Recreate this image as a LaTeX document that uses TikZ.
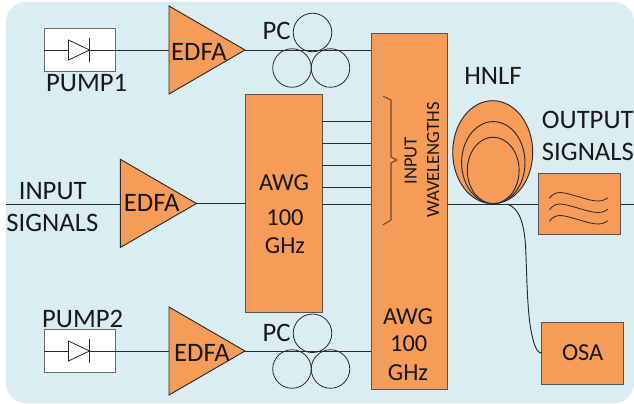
\documentclass[tikz,border=0pt]{standalone}
\usepackage{fontspec}
\setmainfont{Carlito}
\definecolor{bgblue}{HTML}{DAEDF3}
\definecolor{org}{HTML}{F69C58}
\definecolor{lin}{HTML}{2A2A2A}
\definecolor{brace}{HTML}{6A4A30}
\tikzset{
  px/.style={x=0.75pt,y=-0.75pt},
  wire/.style={draw=lin,line width=0.7pt},
  boxo/.style={draw=lin!80,line width=0.75pt,fill=org,inner sep=0pt,outer sep=0pt},
  boxw/.style={draw=lin!70,line width=0.75pt,fill=white,inner sep=0pt,outer sep=0pt},
  amp/.style={draw=lin,line width=0.7pt,fill=org,line join=miter},
  ring/.style={draw=lin,line width=0.6pt,circle,minimum size=28.9pt,inner sep=0pt,outer sep=0pt},
  fib/.style={draw=lin,line width=0.7pt,fill=org},
  lbl/.style={inner sep=0pt,font=\fontsize{20}{20}\selectfont,text=black!90},
  lbls/.style={inner sep=0pt,font=\fontsize{18.3}{18.3}\selectfont,text=black!90},
  lblr/.style={inner sep=0pt,font=\fontsize{14}{14}\selectfont,text=black!90,rotate=90},
}
\newcommand{\rectnode}[7]{\node[#1,minimum width=#6*0.75pt,minimum height=#7*0.75pt] (#2) at (#3,#4) {#5};}
\begin{document}
\begin{tikzpicture}[px]
\useasboundingbox (0,0) rectangle (634,403);
\fill[bgblue,rounded corners=15pt] (6,2) rectangle (634,403);
% anchors
\coordinate (in0) at (6,204);
\coordinate (e1w) at (169,50);\coordinate (e1e) at (245,50);
\coordinate (e2w) at (120,204);\coordinate (e2e) at (196.5,203.5);
\coordinate (e3w) at (169,351);\coordinate (e3e) at (245,351);
\coordinate (outend) at (634,204);
\coordinate (tap) at (507,204);
% boxes as named nodes
\rectnode{boxw}{pumpa}{79.5}{50}{}{71}{42}
\rectnode{boxw}{pumpb}{79.5}{351}{}{71}{43}
\rectnode{boxo}{awga}{283.75}{203}{}{76.5}{218}
\rectnode{boxo}{awgb}{409}{211.5}{}{76}{355}
\rectnode{boxo}{osa}{582.8}{353.5}{}{81.7}{61.6}
% wires
\draw[wire] (pumpa.west) -- (e1w);
\draw[wire] (pumpb.west) -- (e3w);
\draw[wire] (e1e) -- (371,50);
\draw[wire] (e3e) -- (371,351);
\draw[wire] (in0) -- (e2w);
\draw[wire] (e2e) -- (245.5,203.5);
\foreach \y in {121.7,143.3,165,187,204} \draw[wire] (322,\y) -- (371,\y);
\draw[wire] (447,204) -- (outend);
% filter above the through wire
\rectnode{boxo}{filt}{579.6}{204.3}{}{81.3}{61.3}
% PC rings
\node[ring] (pa) at (312.5,32.5) {};
\node[ring] (pb) at (292,68) {};
\node[ring] (pc) at (330.5,68) {};
\node[ring] (pd) at (312.5,333.3) {};
\node[ring] (pe) at (292,369) {};
\node[ring] (pf) at (330.5,369) {};
% amplifiers
\draw[amp] (169,6) -- (e1e) -- (169,94) -- cycle;
\draw[amp] (120.3,159.3) -- (e2e) -- (120.3,247.5) -- cycle;
\draw[amp] (169,307) -- (e3e) -- (169,395) -- cycle;
% diodes
\foreach \yy in {50,351}{
  \draw[wire] (44,\yy) -- (115,\yy);
  \draw[draw=lin,line width=0.6pt,fill=white] (68.5,\yy-10) -- (89.5,\yy) -- (68.5,\yy+10) -- cycle;
  \draw[draw=lin,line width=0.7pt] (89.5,\yy-12) -- (89.5,\yy+12);
}
% brace
\draw[brace,line width=0.8pt] (383.3,96.3) -- (391,100) -- (391,157) -- (396.7,160) -- (391,163) -- (391,220) -- (382.7,225);
% HNLF
\draw[fib] (492.7,152.2) ellipse [x radius=40,y radius=51.5];
\draw[fib] (493.3,162.6) ellipse [x radius=31.7,y radius=41];
\draw[fib] (493.2,170.4) ellipse [x radius=25.9,y radius=33.2];
% tap fibre
\draw[wire] (tap) .. controls (520,208) and (524,225) .. (525.5,245)
  .. controls (527,275) and (527,315) .. (532,335)
  .. controls (534,345) and (537,353) .. (osa.west);
% filter waves
\foreach \d in {0,11.5,23}{
  \draw[draw=lin,line width=0.6pt] (549.3,198.3+\d) .. controls (556,190+\d) and (562,192+\d) .. (576,196+\d)
     .. controls (590,200+\d) and (600,204+\d) .. (607.7,197.8+\d);
}
% labels
\node[lbl] (tpump1) at (86.7,83.3) {PUMP1};
\node[lbl] (tpump2) at (82.7,319.3) {PUMP2};
\node[lbl] (tedfa1) at (199,51.7) {EDFA};
\node[lbl] (tedfa2) at (151.7,202.7) {EDFA};
\node[lbl] (tedfa3) at (202,352.7) {EDFA};
\node[lbl] (tpc1) at (276.7,30.7) {PC};
\node[lbl] (tpc2) at (276.7,332.7) {PC};
\node[lbl] (tin1) at (52.7,190.7) {INPUT};
\node[lbl] (tin2) at (52.3,223) {SIGNALS};
\node[lbls] (ta1) at (284,183) {AWG};
\node[lbls] (ta2) at (285,218) {100};
\node[lbls] (ta3) at (285,246) {GHz};
\node[lbls] (tb1) at (408,317) {AWG};
\node[lbls] (tb2) at (408.7,343.3) {100};
\node[lbls] (tb3) at (408,373) {GHz};
\node[lbl] (thn) at (493,76) {HNLF};
\node[lbl,anchor=west] (tout1) at (541.7,120) {OUTPUT};
\node[lbl,anchor=west] (tout2) at (541.7,151.7) {SIGNALS};
\node[lbls] (tosa) at (582.7,353) {OSA};
\node[lblr] (tiw1) at (410.7,160.7) {INPUT};
\node[lblr] (tiw2) at (433,160) {WAVELENGTHS};
\end{tikzpicture}
\end{document}
